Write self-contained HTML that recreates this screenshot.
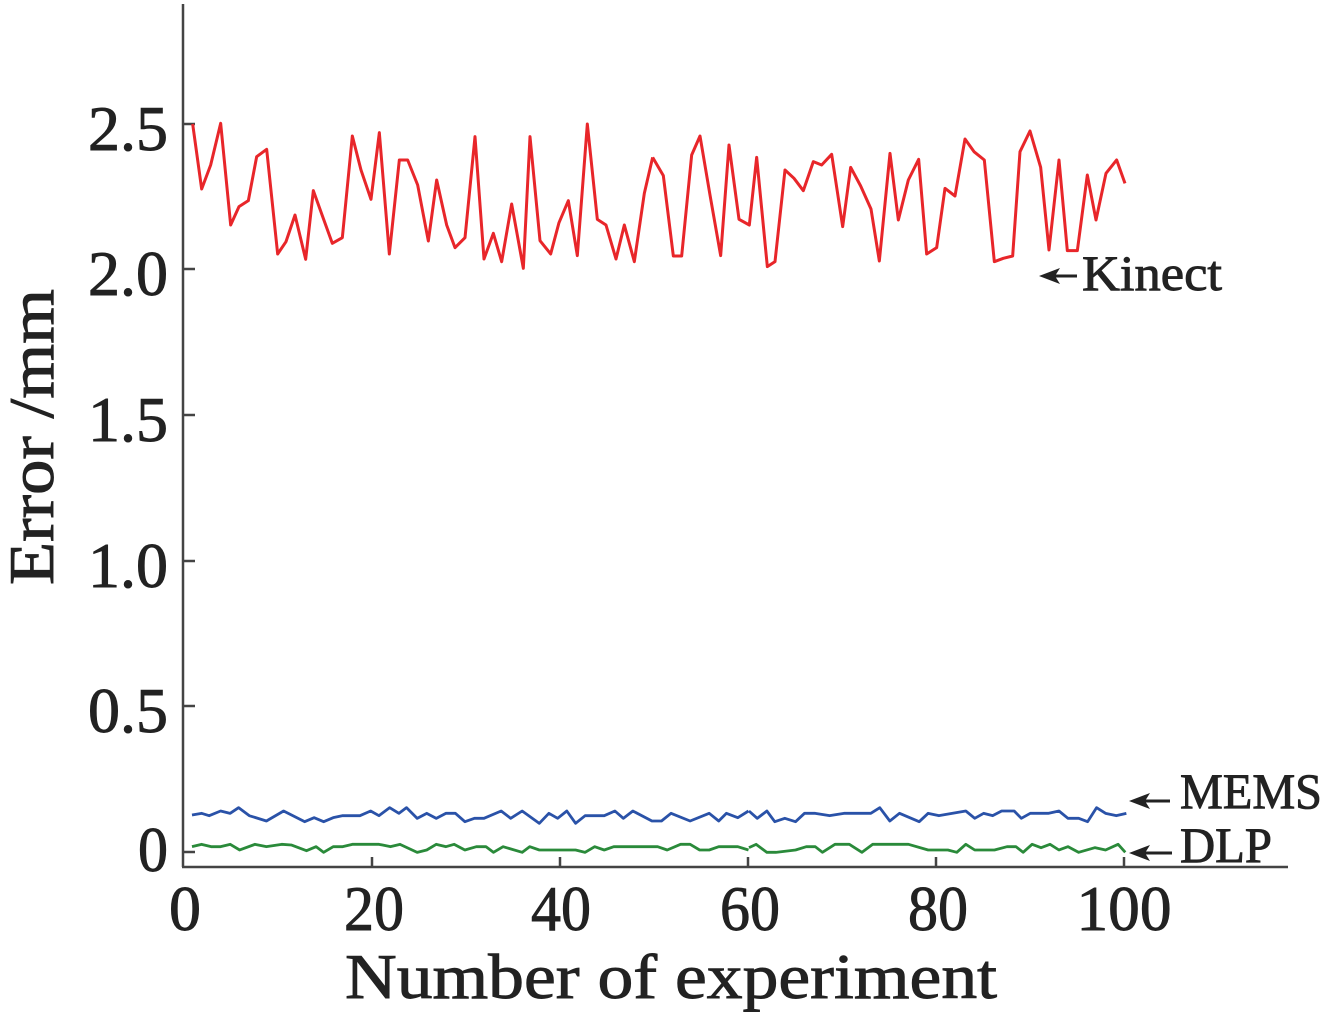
<!DOCTYPE html>
<html><head><meta charset="utf-8"><style>
html,body{margin:0;padding:0;background:#fff;}
svg{display:block;}
text{font-family:"Liberation Serif",serif;fill:#222;stroke:#222;stroke-width:0.9;}
</style></head><body>
<svg width="1328" height="1016" viewBox="0 0 1328 1016" xmlns="http://www.w3.org/2000/svg">
<g stroke="#444" stroke-width="2.5" fill="none">
<line x1="183" y1="4" x2="183" y2="867"/>
<line x1="182" y1="867" x2="1288" y2="867"/>
<line x1="183" y1="124" x2="195" y2="124"/>
<line x1="183" y1="269" x2="195" y2="269"/>
<line x1="183" y1="415" x2="195" y2="415"/>
<line x1="183" y1="561" x2="195" y2="561"/>
<line x1="183" y1="706" x2="195" y2="706"/>
<line x1="183" y1="852" x2="195" y2="852"/>
<line x1="372" y1="867" x2="372" y2="857"/>
<line x1="560" y1="867" x2="560" y2="857"/>
<line x1="748" y1="867" x2="748" y2="857"/>
<line x1="936" y1="867" x2="936" y2="857"/>
<line x1="1124" y1="867" x2="1124" y2="857"/>
</g>
<g font-size="64" text-anchor="end">
<text x="168" y="150" textLength="80" lengthAdjust="spacingAndGlyphs">2.5</text>
<text x="168" y="295" textLength="80" lengthAdjust="spacingAndGlyphs">2.0</text>
<text x="168" y="441" textLength="80" lengthAdjust="spacingAndGlyphs">1.5</text>
<text x="168" y="587" textLength="80" lengthAdjust="spacingAndGlyphs">1.0</text>
<text x="168" y="732" textLength="80" lengthAdjust="spacingAndGlyphs">0.5</text>
<text x="168" y="871" textLength="30" lengthAdjust="spacingAndGlyphs">0</text>
</g>
<g font-size="64" text-anchor="middle">
<text x="185" y="930">0</text>
<text x="374" y="930" textLength="60" lengthAdjust="spacingAndGlyphs">20</text>
<text x="561" y="930" textLength="60" lengthAdjust="spacingAndGlyphs">40</text>
<text x="750" y="930" textLength="60" lengthAdjust="spacingAndGlyphs">60</text>
<text x="938" y="930" textLength="60" lengthAdjust="spacingAndGlyphs">80</text>
<text x="1124" y="930" textLength="95" lengthAdjust="spacingAndGlyphs">100</text>
</g>
<text x="345" y="998" font-size="64" textLength="652" lengthAdjust="spacingAndGlyphs">Number of experiment</text>
<text transform="translate(53,585) rotate(-90)" font-size="64" textLength="296" lengthAdjust="spacingAndGlyphs">Error /mm</text>

<polyline fill="none" stroke="#e8262a" stroke-width="3" stroke-linejoin="round" vector-effect="non-scaling-stroke" transform="translate(180,110) scale(0.33333)"
points="38,42 65,237 92,165 122,40 152,345 177,290 205,272 230,140 260,118 293,432 318,395 345,315 377,448 400,242 428,320 457,400 487,383 517,78 543,180 573,268 598,68 628,432 658,150 683,150 713,225 745,393 770,210 800,345 825,413 855,383 885,80 912,447 940,370 965,455 995,282 1030,475 1050,80 1080,392 1112,432 1137,338 1165,272 1192,437 1222,42 1252,328 1278,345 1308,447 1333,345 1363,455 1393,250 1418,142"/>
<polyline fill="none" stroke="#e8262a" stroke-width="3" stroke-linejoin="round" vector-effect="non-scaling-stroke" transform="translate(650,110) scale(0.33333)"
points="8,142 40,197 70,438 95,438 125,135 150,78 180,255 212,437 237,105 267,328 298,345 320,142 352,470 375,455 405,180 432,205 460,242 490,155 515,165 545,133 578,350 602,172 632,228 663,297 688,453 720,130 745,330 775,210 806,148 830,432 860,413 885,235 915,258 945,87 972,125 1003,150 1033,455 1060,445 1088,438 1110,125 1140,63 1172,172 1197,420 1227,150 1252,422 1282,422 1312,195 1338,330 1368,190 1400,150 1425,220"/>

<polyline fill="none" stroke="#2a52a8" stroke-width="2.8" stroke-linejoin="round" vector-effect="non-scaling-stroke" transform="translate(150,780) scale(0.3817,0.33333)"
points="110,105 135,100 155,107 185,93 210,100 232,83 260,107 305,123 350,93 405,125 430,113 455,125 480,113 505,107 550,107 578,93 600,107 628,83 652,100 672,83 700,115 725,100 750,115 775,100 800,100 825,125 850,115 875,115 920,93 945,115 975,93 1020,130 1045,100 1068,115 1092,93 1115,130 1140,107 1190,107 1218,93 1240,115 1265,93 1315,123 1340,123 1365,100 1415,123 1465,100 1490,123 1510,100 1540,113 1568,93"/>
<polyline fill="none" stroke="#2a52a8" stroke-width="2.8" stroke-linejoin="round" vector-effect="non-scaling-stroke" transform="translate(740,780) scale(0.3584,0.33333)"
points="25,93 48,115 75,93 97,125 125,115 155,125 180,100 210,100 250,107 290,100 365,100 390,83 418,123 445,100 500,125 525,100 555,107 630,93 655,115 680,100 705,107 730,93 765,93 785,115 810,100 860,100 890,93 915,115 945,115 970,125 995,83 1020,100 1050,107 1078,100"/>

<polyline fill="none" stroke="#2a8a3a" stroke-width="2.8" stroke-linejoin="round" vector-effect="non-scaling-stroke" transform="translate(150,780) scale(0.3817,0.33333)"
points="110,200 135,193 160,200 185,200 210,193 235,210 275,193 305,200 345,193 370,195 410,212 435,200 455,217 480,200 505,200 530,193 600,193 630,200 655,193 700,217 725,210 750,193 775,200 797,193 825,210 855,200 880,200 900,217 925,200 975,217 995,200 1020,210 1115,210 1140,217 1165,200 1190,210 1215,200 1330,200 1355,210 1390,193 1415,193 1440,210 1465,210 1490,200 1540,200 1568,210"/>
<polyline fill="none" stroke="#2a8a3a" stroke-width="2.8" stroke-linejoin="round" vector-effect="non-scaling-stroke" transform="translate(740,780) scale(0.3584,0.33333)"
points="25,203 45,193 75,217 100,217 155,210 185,200 210,200 230,217 265,193 305,193 340,217 370,193 470,193 525,210 580,210 605,217 630,193 655,210 710,210 745,200 770,200 790,217 815,193 840,203 865,193 890,210 915,200 945,217 990,203 1020,210 1055,193 1075,217"/>

<g fill="#222" stroke="#222" stroke-width="3">
<line x1="1052" y1="276" x2="1077" y2="276"/>
<polygon points="1039,276 1060,268 1055,276 1060,284" stroke="none"/>
<line x1="1142" y1="801" x2="1170" y2="801"/>
<polygon points="1129,801 1150,793 1145,801 1150,809" stroke="none"/>
<line x1="1142" y1="853" x2="1172" y2="853"/>
<polygon points="1129,853 1150,845 1145,853 1150,861" stroke="none"/>
</g>
<text x="1082" y="290" font-size="50" textLength="140" lengthAdjust="spacingAndGlyphs">Kinect</text>
<text x="1180" y="808" font-size="50" textLength="142" lengthAdjust="spacingAndGlyphs">MEMS</text>
<text x="1180" y="862" font-size="50" textLength="92" lengthAdjust="spacingAndGlyphs">DLP</text>
</svg>
</body></html>
